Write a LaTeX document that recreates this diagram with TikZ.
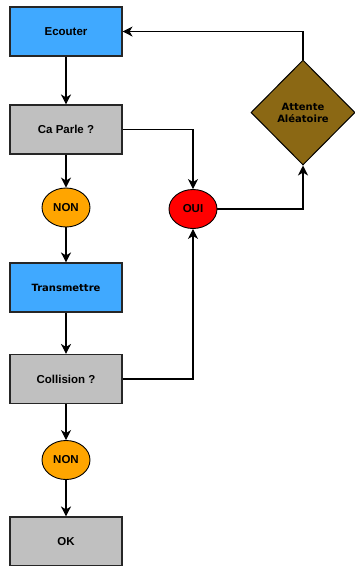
\documentclass[tikz,border=0pt]{standalone}
\usepackage{fontspec}
\setmainfont{Liberation Sans}
\newfontfamily\dejavu{DejaVu Sans}
\usetikzlibrary{shapes.geometric,arrows.meta}

\definecolor{boxblue}{RGB}{64,169,255}
\definecolor{boxgray}{RGB}{192,192,192}
\definecolor{nonorange}{RGB}{255,165,0}
\definecolor{ouired}{RGB}{255,0,0}
\definecolor{waitbrown}{RGB}{139,104,20}

\tikzset{
  etape/.style={draw=black!85, line width=1.1pt, minimum width=112pt, minimum height=49pt,
    inner sep=0pt, font=\bfseries\fontsize{11.5}{13}\selectfont},
  action/.style={etape, fill=boxblue},
  test/.style={etape, fill=boxgray},
  reponse/.style={ellipse, draw=black, line width=0.9pt, minimum width=48pt, minimum height=39pt,
    inner sep=0pt, font=\bfseries\fontsize{11.5}{13}\selectfont},
  attente/.style={diamond, draw=black, line width=1pt, fill=waitbrown, minimum width=104pt,
    minimum height=105pt, inner sep=0pt, align=center,
    font=\dejavu\bfseries\fontsize{10}{12}\selectfont},
  fleche/.style={-{Stealth[length=10pt,width=10pt,inset=3pt]}, line width=1.1pt}
}

\begin{document}
\begin{tikzpicture}[x=1pt,y=-1pt]
\useasboundingbox (0,0) rectangle (355,566);
% colonne de gauche
\node[action] (ecouter) at (66,31.5) {Ecouter};
\node[test] (caparle) at (66,129.5) {Ca Parle ?};
\node[reponse, fill=nonorange] (non1) at (66,207.5) {NON};
\node[action] (transmettre) at (66,287.5) {\dejavu\bfseries\fontsize{10}{12}\selectfont Transmettre};
\node[test] (collision) at (66,379) {Collision ?};
\node[reponse, fill=nonorange] (non2) at (66,460) {NON};
\node[test] (ok) at (66,541.5) {OK};
% branche OUI
\node[reponse, fill=ouired] (oui) at (193,209) {OUI};
\node[attente] (attente) at (303,112.5) {Attente\\Aléatoire};

\draw[fleche] (ecouter) -- (caparle);
\draw[fleche] (caparle) -- (non1);
\draw[fleche] (non1) -- (transmettre);
\draw[fleche] (transmettre) -- (collision);
\draw[fleche] (collision) -- (non2);
\draw[fleche] (non2) -- (ok);
\draw[fleche] (caparle.east) -| (oui.north);
\draw[fleche] (collision.east) -| (oui.south);
\draw[fleche] (oui.east) -| (attente.south);
\draw[fleche] (attente.north) |- (ecouter.east);
\end{tikzpicture}
\end{document}
